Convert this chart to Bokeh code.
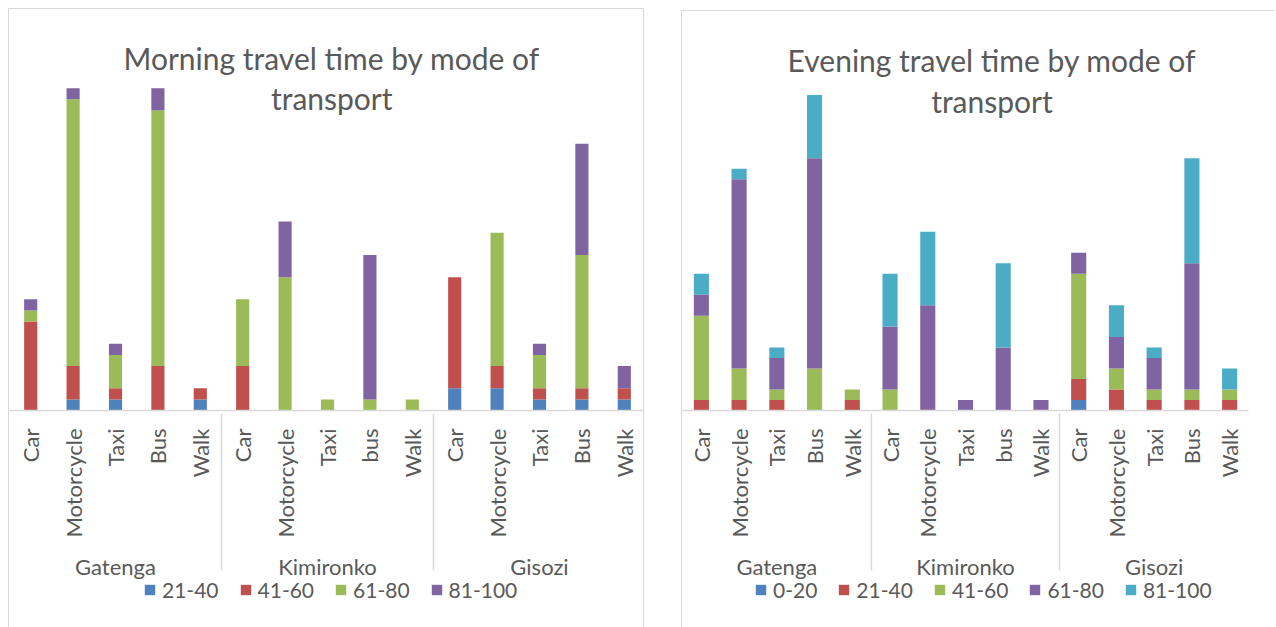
from math import pi
from bokeh.plotting import figure
from bokeh.models import FactorRange, Legend, LegendItem, Label, ColumnDataSource
from bokeh.layouts import row, column
from bokeh.embed import file_html
from bokeh.resources import INLINE

# ---------------- data ----------------
groups = ["Gatenga", "Kimironko", "Gisozi"]
modes_gatenga = ["Car", "Motorcycle", "Taxi", "Bus", "Walk"]
modes_kimironko = ["Car", "Motorcycle", "Taxi", "bus", "Walk"]
modes_gisozi = ["Car", "Motorcycle", "Taxi", "Bus", "Walk"]

morning_series = ["21-40", "41-60", "61-80", "81-100"]
morning_21_40 = [0, 1, 1, 0, 1, 0, 0, 0, 0, 0, 2, 2, 1, 1, 1]
morning_41_60 = [8, 3, 1, 4, 1, 4, 0, 0, 0, 0, 10, 2, 1, 1, 1]
morning_61_80 = [1, 24, 3, 23, 0, 6, 12, 1, 1, 1, 0, 12, 3, 12, 0]
morning_81_100 = [1, 1, 1, 2, 0, 0, 5, 0, 13, 0, 0, 0, 1, 10, 2]

evening_series = ["0-20", "21-40", "41-60", "61-80", "81-100"]
evening_0_20 = [0, 0, 0, 0, 0, 0, 0, 0, 0, 0, 1, 0, 0, 0, 0]
evening_21_40 = [1, 1, 1, 0, 1, 0, 0, 0, 0, 0, 2, 2, 1, 1, 1]
evening_41_60 = [8, 3, 1, 4, 1, 2, 0, 0, 0, 0, 10, 2, 1, 1, 1]
evening_61_80 = [2, 18, 3, 20, 0, 6, 10, 1, 6, 1, 2, 3, 3, 12, 0]
evening_81_100 = [2, 1, 1, 6, 0, 5, 7, 0, 8, 0, 0, 3, 1, 10, 2]

morning_title = ["Morning travel time by mode of", "transport"]
evening_title = ["Evening travel time by mode of", "transport"]

# ---------------- style ----------------
BLUE, RED, GREEN, PURPLE, CYAN = "#4F81BD", "#C0504D", "#9BBB59", "#8064A2", "#4BACC6"
TEXT = "#595959"
GRAYLINE = "#D9D9D9"
FONT = "Lato"

factors = ([("Gatenga", m) for m in modes_gatenga] +
           [("Kimironko", m) for m in modes_kimironko] +
           [("Gisozi", m) for m in modes_gisozi])


def new_range():
    return FactorRange(*factors, group_padding=0, factor_padding=0,
                       subgroup_padding=0, range_padding=0)


def make_chart(series_names, series_values, colors, title_lines, width, height,
               leg_height, border_top, ymax, bar_width, title_x, title_ys, legend_x,
               border_right, left_margin, top_margin, css, css_leg):
    data = {"x": factors}
    for n, v in zip(series_names, series_values):
        data[n] = v
    src = ColumnDataSource(data)
    p = figure(x_range=new_range(), y_range=(0, ymax), width=width, height=height,
               title=None, output_backend="svg", toolbar_location=None,
               min_border_left=0, min_border_right=border_right,
               min_border_top=border_top, min_border_bottom=176,
               margin=(top_margin, 0, 0, left_margin), styles=css)
    p.vbar_stack(series_names, x="x", width=bar_width, color=colors,
                 line_color=None, source=src)
    p.outline_line_color = None
    p.xgrid.visible = False
    p.ygrid.visible = False
    p.yaxis.visible = False
    p.background_fill_color = "white"
    p.border_fill_color = "white"

    ax = p.xaxis[0]
    ax.axis_line_color = GRAYLINE
    ax.axis_line_width = 1.5
    ax.major_tick_line_color = None
    ax.minor_tick_line_color = None
    ax.major_label_orientation = pi / 2
    ax.major_label_text_font = FONT
    ax.major_label_text_font_size = "22px"
    ax.major_label_text_color = TEXT
    ax.major_label_standoff = 12
    ax.group_text_font = FONT
    ax.group_text_font_size = "22px"
    ax.group_text_font_style = "normal"
    ax.group_text_color = TEXT
    ax.group_label_orientation = "parallel"
    ax.separator_line_color = GRAYLINE
    ax.separator_line_width = 1.5

    for line, ty in zip(title_lines, title_ys):
        p.add_layout(Label(x=title_x, y=ty, text=line, text_align="center",
                           text_baseline="middle", text_font=FONT,
                           text_font_size="30px", text_color=TEXT))

    # legend strip below the chart (same series, drawn out of view), overlapping
    lg = figure(x_range=new_range(), y_range=(100, 101), width=width, height=leg_height,
                title=None, output_backend="svg", toolbar_location=None,
                x_axis_location=None, y_axis_location=None,
                min_border_left=0, min_border_right=0, min_border_top=0,
                min_border_bottom=0, margin=(-20, 0, 0, left_margin), styles=css_leg)
    lrs = lg.vbar_stack(series_names, x="x", width=bar_width, color=colors,
                        line_color=None, source=src)
    lg.outline_line_color = None
    lg.xgrid.visible = False
    lg.ygrid.visible = False
    lg.background_fill_alpha = 0
    lg.border_fill_alpha = 0
    items = [LegendItem(label=n, renderers=[r]) for n, r in zip(series_names, lrs)]
    leg = Legend(items=items, orientation="horizontal", location=(legend_x, 25),
                 glyph_width=13, glyph_height=13, label_text_font=FONT,
                 label_text_font_size="21px", label_text_color=TEXT,
                 label_standoff=6, spacing=20, padding=0, margin=0,
                 border_line_color=None, background_fill_alpha=0,
                 label_height=20)
    lg.add_layout(leg, "center")
    return column(p, lg, spacing=0)


BORDER = "1.5px solid #D9D9D9"
css_left = {"border-top": BORDER, "border-left": BORDER, "border-right": BORDER}
css_left_leg = {"border-left": BORDER, "border-right": BORDER}
css_right = {"border-top": BORDER, "border-left": BORDER}
css_right_leg = {"border-left": BORDER}

c1 = make_chart(morning_series,
                [morning_21_40, morning_41_60, morning_61_80, morning_81_100],
                [BLUE, RED, GREEN, PURPLE], morning_title,
                width=636, height=577, leg_height=62, border_top=12, ymax=35,
                bar_width=0.31, title_x=7.6, title_ys=[31.7, 28.1], legend_x=134,
                border_right=0, left_margin=8, top_margin=8,
                css=css_left, css_leg=css_left_leg)

c2 = make_chart(evening_series,
                [evening_0_20, evening_21_40, evening_41_60, evening_61_80, evening_81_100],
                [BLUE, RED, GREEN, PURPLE, CYAN], evening_title,
                width=594, height=575, leg_height=62, border_top=31, ymax=35,
                bar_width=0.4, title_x=8.2, title_ys=[33.3, 29.4], legend_x=72,
                border_right=28, left_margin=37, top_margin=10,
                css=css_right, css_leg=css_right_leg)

layout = row(c1, c2, spacing=0)
open("out.html", "w").write(file_html(layout, INLINE))
